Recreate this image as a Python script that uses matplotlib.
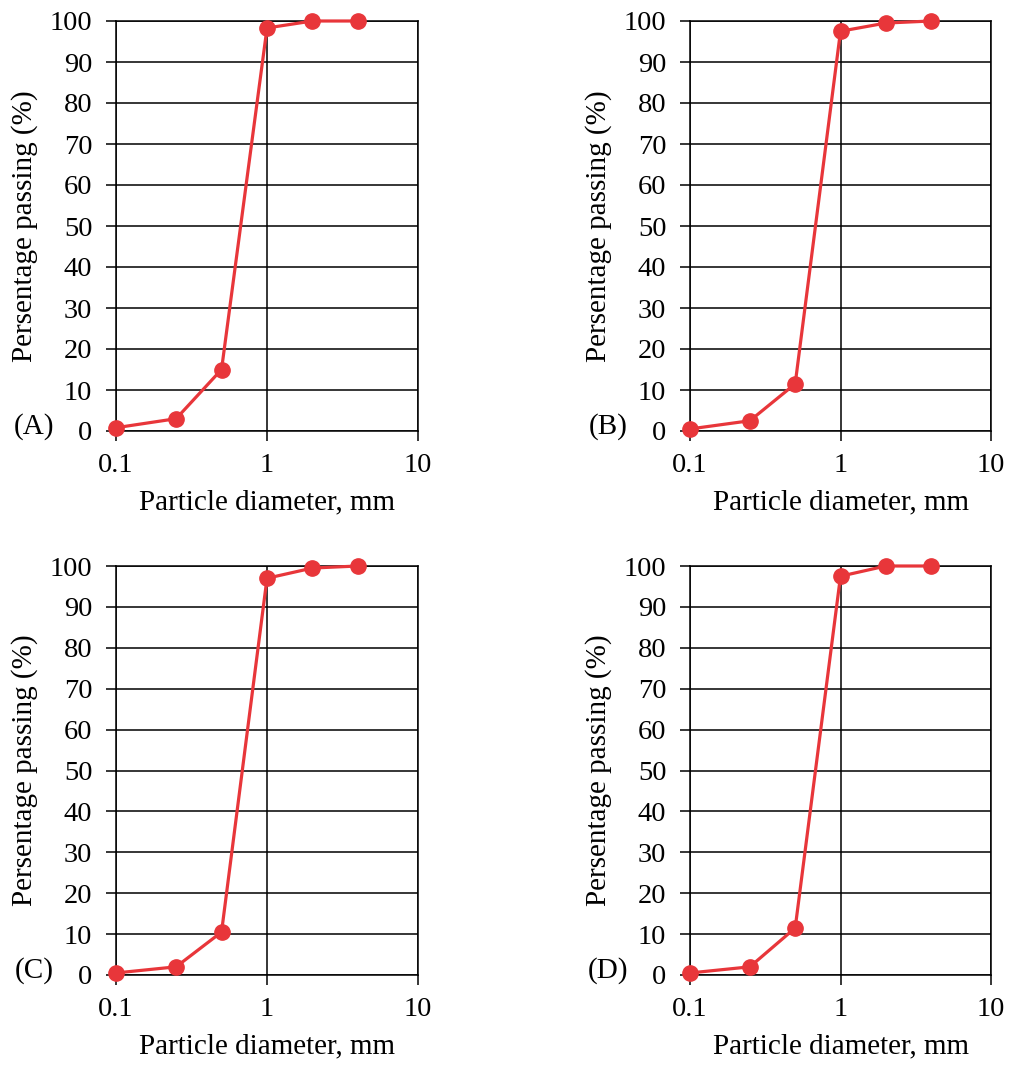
import numpy as np
import matplotlib.pyplot as plt
from matplotlib.ticker import FixedLocator, FixedFormatter, NullLocator

plt.rcParams['font.family'] = ['Liberation Serif', 'DejaVu Serif']

diameter = [0.1, 0.25, 0.5, 1, 2, 4]
passing_a = [0.8, 3, 15, 98.3, 100, 100]
passing_b = [0.5, 2.5, 11.5, 97.5, 99.5, 100]
passing_c = [0.5, 2, 10.5, 97, 99.5, 100]
passing_d = [0.5, 2, 11.5, 97.5, 100, 100]
panel_labels = ['(A)', '(B)', '(C)', '(D)']
y_ticks = list(range(0, 101, 10))
x_ticks = [0.1, 1, 10]
x_ticklabels = ['0.1', '1', '10']

red = '#e8363a'
fs = 21

fig = plt.figure(figsize=(10.13, 10.66), dpi=100)

W, H = 1013, 1066
# axes boxes in pixels: left, top, right, bottom
boxes = [(116, 21, 418, 431), (690, 21, 991, 431),
         (116, 566, 418, 975), (690, 566, 991, 975)]
series = [passing_a, passing_b, passing_c, passing_d]

for (x0, y0, x1, y1), vals, lab in zip(boxes, series, panel_labels):
    ax = fig.add_axes([x0 / W, 1 - y1 / H, (x1 - x0) / W, (y1 - y0) / H])
    ax.set_xscale('log')
    ax.set_xlim(0.1, 10)
    ax.set_ylim(0, 100)
    ax.xaxis.set_major_locator(FixedLocator(x_ticks))
    ax.xaxis.set_major_formatter(FixedFormatter(x_ticklabels))
    ax.xaxis.set_minor_locator(NullLocator())
    ax.set_yticks(y_ticks)
    ax.grid(True, color='black', linewidth=1.1)
    ax.set_axisbelow(True)
    for s in ax.spines.values():
        s.set_color('black')
        s.set_linewidth(1.1)
    ax.tick_params(direction='out', length=7, width=1.1, labelsize=20.5)
    ax.tick_params(axis='y', pad=10)
    ax.tick_params(axis='x', pad=9)
    ax.plot(diameter, vals, '-o', color=red, linewidth=2.3, markersize=11,
            clip_on=False, zorder=5)
    ax.set_xlabel('Particle diameter, mm', fontsize=fs)
    ax.set_ylabel('Persentage passing (%)', fontsize=fs)
    pw = x1 - x0
    ph = y1 - y0
    ax.xaxis.set_label_coords(0.5, -71 / ph)
    ax.xaxis.label.set_va('center')
    ax.yaxis.set_label_coords(-91 / pw, 0.5)
    ax.yaxis.label.set_va('center')
    ax.text(-82 / pw, 1.2, lab, transform=ax.get_yaxis_transform(),
            fontsize=fs, ha='center', va='center')

fig.savefig('out.png', dpi=100)
